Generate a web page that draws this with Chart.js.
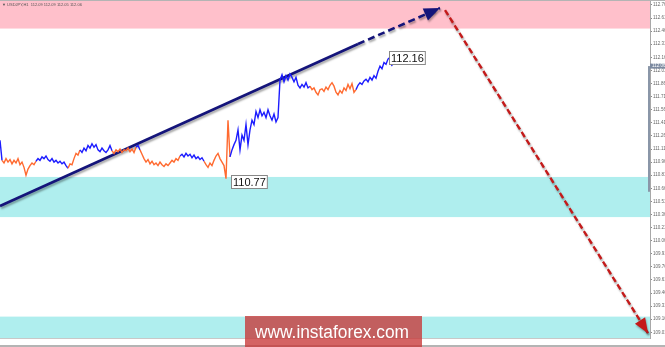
<!DOCTYPE html>
<html>
<head>
<meta charset="utf-8">
<script src="https://cdn.jsdelivr.net/npm/chart.js@4.4.1/dist/chart.umd.min.js"></script>
<style>
html, body { margin: 0; padding: 0; background: #fff; }
#wrap { width: 665px; height: 347px; }
</style>
</head>
<body>
<div id="wrap"><canvas id="chart" width="665" height="347"></canvas></div>
<script>
// USDJPY H1 closes, one value per bar
const prices = [
    111.21, 110.98, 110.95, 111.00, 110.96, 110.99, 110.94, 110.98, 110.95, 111.00,
    110.93, 110.96, 110.90, 110.81, 110.88, 110.92, 110.95, 110.93, 110.97, 111.00,
    110.98, 111.02, 111.00, 111.03, 110.99, 110.97, 111.00, 110.96, 110.98, 110.95,
    110.97, 110.94, 110.96, 110.92, 110.89, 110.94, 110.93, 111.00, 111.06, 111.04,
    111.10, 111.07, 111.12, 111.09, 111.15, 111.12, 111.17, 111.13, 111.16, 111.10,
    111.08, 111.12, 111.09, 111.07, 111.10, 111.15, 111.09, 111.06, 111.10, 111.08,
    111.11, 111.07, 111.10, 111.09, 111.12, 111.08, 111.11, 111.07, 111.13, 111.15,
    111.10, 111.05, 111.00, 110.96, 110.99, 110.94, 110.97, 110.93, 110.95, 110.92,
    110.96, 110.93, 110.91, 110.94, 110.92, 110.95, 110.98, 110.96, 111.00, 110.98,
    111.03, 111.05, 111.02, 111.06, 111.03, 111.05, 111.01, 111.04, 111.00, 111.02,
    110.99, 111.01, 110.97, 110.93, 110.90, 110.95, 110.92, 110.98, 111.03, 111.06,
    111.00, 110.96, 110.92, 110.77, 111.44, 111.02, 111.10, 111.16, 111.21, 111.33,
    111.10, 111.27, 111.21, 111.39, 111.16, 111.33, 111.44, 111.39, 111.54, 111.47,
    111.56, 111.49, 111.53, 111.47, 111.56, 111.49, 111.44, 111.51, 111.42, 111.47,
    111.90, 111.96, 111.88, 111.95, 111.90, 111.97, 111.93, 111.88, 111.93, 111.84,
    111.81, 111.85, 111.82, 111.87, 111.81, 111.83, 111.79, 111.81, 111.76, 111.73,
    111.79, 111.80, 111.77, 111.82, 111.79, 111.84, 111.87, 111.83, 111.76, 111.73,
    111.78, 111.75, 111.81, 111.78, 111.85, 111.80, 111.86, 111.76, 111.79, 111.84,
    111.87, 111.85, 111.89, 111.91, 111.88, 111.93, 111.90, 111.95, 111.92, 112.00,
    112.06, 112.03, 112.10, 112.08, 112.14, 112.16, 112.06
];

// wave legs: bar where each leg starts and whether it is up (u) or down (d)
const legStarts = [0, 1, 18, 34, 40, 56, 68, 70, 90, 102, 115, 155, 178];
const legKinds = ['u', 'd', 'u', 'd', 'u', 'd', 'u', 'd', 'u', 'd', 'u', 'd', 'u'];

// support / resistance zones
const zoneTop = [112.817, 110.79, 109.19];
const zoneBottom = [112.49, 110.33, 108.945];
const zoneKinds = ['resist', 'support', 'support'];

// trend line with the forecast move and the target move
const trendBars = [0, 179, 220];
const trendPrices = [110.457, 112.313, 112.725];
const targetBars = [222.5, 324];
const targetPrices = [112.702, 109.00];

// marked extremes
const markBars = [195, 113];
const markTexts = ['112.16', '110.77'];

const bidPrice = 112.06;

const yTicks = [
    112.76, 112.61, 112.46, 112.31, 112.16, 112.01, 111.86, 111.71, 111.56,
    111.41, 111.26, 111.11, 110.96, 110.81, 110.66, 110.51, 110.36, 110.21,
    110.06, 109.91, 109.76, 109.61, 109.46, 109.31, 109.16, 109.01
];
const timeLabels = [
    '27 Jul 2018', '27 Jul 12:00', '30 Jul 00:00', '30 Jul 12:00', '31 Jul 00:00',
    '31 Jul 12:00', '1 Aug 00:00', '1 Aug 12:00', '2 Aug 00:00', '2 Aug 12:00',
    '3 Aug 00:00', '3 Aug 12:00', '6 Aug 00:00', '6 Aug 12:00', '7 Aug 00:00',
    '7 Aug 12:00', '8 Aug 00:00'
];

const FONT = "'Liberation Sans', Arial, sans-serif";
const UP = '#1c1cff';
const DOWN = '#ff6a30';
const ZONE_COLORS = { resist: '#ffc0cb', support: '#afeeee' };

function legColorAt(i) {
    let kind = legKinds[0];
    for (let k = 0; k < legStarts.length; k++) {
        if (i >= legStarts[k]) kind = legKinds[k];
    }
    return kind === 'u' ? UP : DOWN;
}

function arrowHead(ctx, x1, y1, x2, y2, color, len, half) {
    const a = Math.atan2(y2 - y1, x2 - x1);
    const bx = x2 - len * Math.cos(a);
    const by = y2 - len * Math.sin(a);
    ctx.save();
    ctx.fillStyle = color;
    ctx.shadowColor = 'rgba(0,0,0,0.3)';
    ctx.shadowOffsetX = 1;
    ctx.shadowOffsetY = 2;
    ctx.shadowBlur = 2;
    ctx.beginPath();
    ctx.moveTo(x2, y2);
    ctx.lineTo(bx + half * Math.sin(a), by - half * Math.cos(a));
    ctx.lineTo(bx - half * Math.sin(a), by + half * Math.cos(a));
    ctx.closePath();
    ctx.fill();
    ctx.restore();
}

// no label overhang padding, so the plot reaches the canvas edges
function noOverhang(s) {
    s.paddingTop = 0;
    s.paddingBottom = 0;
    s.paddingLeft = 0;
    s.paddingRight = 0;
}

// Zones behind the price
const zonesPlugin = {
    id: 'zones',
    beforeDatasetsDraw(chart) {
        const { ctx, chartArea, scales: { y } } = chart;
        ctx.save();
        zoneTop.forEach((top, k) => {
            const y1 = y.getPixelForValue(top);
            const y2 = y.getPixelForValue(zoneBottom[k]);
            ctx.fillStyle = ZONE_COLORS[zoneKinds[k]];
            ctx.fillRect(chartArea.left, y1, chartArea.right - chartArea.left, y2 - y1);
        });
        ctx.restore();
    }
};

// Shadow under the arrow lines
const shadowPlugin = {
    id: 'arrowShadow',
    beforeDatasetDraw(chart, args) {
        if (args.index === 0) return;
        const ctx = chart.ctx;
        ctx.save();
        ctx.shadowColor = 'rgba(0,0,0,0.35)';
        ctx.shadowOffsetX = 1;
        ctx.shadowOffsetY = 2;
        ctx.shadowBlur = 2;
    },
    afterDatasetDraw(chart, args) {
        if (args.index === 0) return;
        chart.ctx.restore();
    }
};

// Arrow heads and price marks
const marksPlugin = {
    id: 'marks',
    afterDatasetsDraw(chart) {
        const ctx = chart.ctx;
        const trend = chart.getDatasetMeta(1).data;
        const target = chart.getDatasetMeta(2).data;
        const t1 = trend[trend.length - 2], t2 = trend[trend.length - 1];
        arrowHead(ctx, t1.x, t1.y, t2.x, t2.y, '#14147a', 16, 6.5);
        const r1 = target[0], r2 = target[target.length - 1];
        arrowHead(ctx, r1.x, r1.y, r2.x, r2.y, '#c41a1a', 15, 6);

        const pts = chart.getDatasetMeta(0).data;
        const offsets = [[-1, -6], [5, -4]];
        ctx.save();
        ctx.font = '11px ' + FONT;
        ctx.textBaseline = 'middle';
        markBars.forEach((bar, k) => {
            const p = pts[bar];
            const w = ctx.measureText(markTexts[k]).width + 3;
            const bx = Math.round(p.x + offsets[k][0]) + 0.5;
            const by = Math.round(p.y + offsets[k][1]) + 0.5;
            ctx.fillStyle = '#fff';
            ctx.fillRect(bx, by, w, 13);
            ctx.strokeStyle = '#888';
            ctx.lineWidth = 1;
            ctx.strokeRect(bx, by, w, 13);
            ctx.fillStyle = '#111';
            ctx.fillText(markTexts[k], bx + 1.5, by + 7);
        });
        ctx.restore();
    }
};

// Terminal decorations and watermark
const framePlugin = {
    id: 'frame',
    afterDraw(chart) {
        const { ctx, chartArea, scales: { y } } = chart;
        ctx.save();
        ctx.fillStyle = '#b4b4b4';
        ctx.fillRect(0, 0, chart.width, 1);
        ctx.fillRect(0, chart.height - 2, chart.width, 2);

        ctx.font = '4px ' + FONT;
        ctx.fillStyle = '#555';
        ctx.textBaseline = 'middle';
        ctx.fillText('\u25BC USDJPY,H1  112.09 112.09 112.05 112.06', 2, 5);

        const bidY = y.getPixelForValue(bidPrice);
        ctx.fillStyle = '#8a96a8';
        ctx.fillRect(chartArea.right - 2, bidY, 2, y.getPixelForValue(110.62) - bidY);
        ctx.fillStyle = '#7c8aa0';
        ctx.fillRect(chartArea.right, bidY - 2.5, chart.width - chartArea.right, 5);
        ctx.fillStyle = '#fff';
        ctx.font = '4.5px ' + FONT;
        ctx.fillText(bidPrice.toFixed(2), chartArea.right + 2, bidY);

        ctx.fillStyle = 'rgba(200,55,55,0.78)';
        ctx.fillRect(245, 316, 177, 31);
        ctx.fillStyle = '#fff';
        ctx.font = '18px ' + FONT;
        ctx.textBaseline = 'alphabetic';
        ctx.fillText('www.instaforex.com', 255, 338, 154);
        ctx.restore();
    }
};

const ctx = document.getElementById('chart').getContext('2d');

new Chart(ctx, {
    type: 'line',
    data: {
        datasets: [{
            data: prices.map((v, i) => ({ x: i, y: v })),
            borderWidth: 1.4,
            pointRadius: 0,
            tension: 0,
            borderColor: UP,
            segment: { borderColor: c => legColorAt(c.p0DataIndex) },
        }, {
            data: trendBars.map((b, i) => ({ x: b, y: trendPrices[i] })),
            borderColor: '#14147a',
            borderWidth: 2.6,
            pointRadius: 0,
            segment: { borderDash: c => (c.p0DataIndex === 1 ? [7, 4] : undefined) },
        }, {
            data: targetBars.map((b, i) => ({ x: b, y: targetPrices[i] })),
            borderColor: '#c41a1a',
            borderWidth: 2.4,
            borderDash: [6, 3],
            pointRadius: 0,
        }],
    },
    options: {
        responsive: false,
        animation: false,
        layout: { padding: 0 },
        plugins: {
            legend: { display: false },
            tooltip: { enabled: false },
        },
        scales: {
            x: {
                type: 'linear',
                min: 0,
                max: 325,
                afterBuildTicks: s => { s.ticks = timeLabels.map((t, k) => ({ value: 1 + k * 11.5 })); },
                afterFit: s => { s.height = 9; noOverhang(s); },
                grid: { display: false },
                border: { display: true, color: '#c8c8c8' },
                ticks: {
                    autoSkip: false,
                    maxRotation: 0,
                    align: 'start',
                    padding: 1,
                    color: '#666',
                    font: { size: 3.6, family: FONT },
                    callback: (v, i) => timeLabels[i],
                },
            },
            y: {
                position: 'right',
                min: 108.945,
                max: 112.817,
                afterBuildTicks: s => { s.ticks = yTicks.map(v => ({ value: v })); },
                afterFit: s => { s.width = 15; noOverhang(s); },
                grid: { drawOnChartArea: false, tickLength: 2, color: '#888' },
                border: { display: true, color: '#a8a8a8' },
                ticks: {
                    autoSkip: false,
                    padding: 1,
                    color: '#666',
                    font: { size: 4.5, family: FONT },
                    callback: v => v.toFixed(2),
                },
            },
        },
    },
    plugins: [zonesPlugin, shadowPlugin, marksPlugin, framePlugin],
});
</script>
</body>
</html>
